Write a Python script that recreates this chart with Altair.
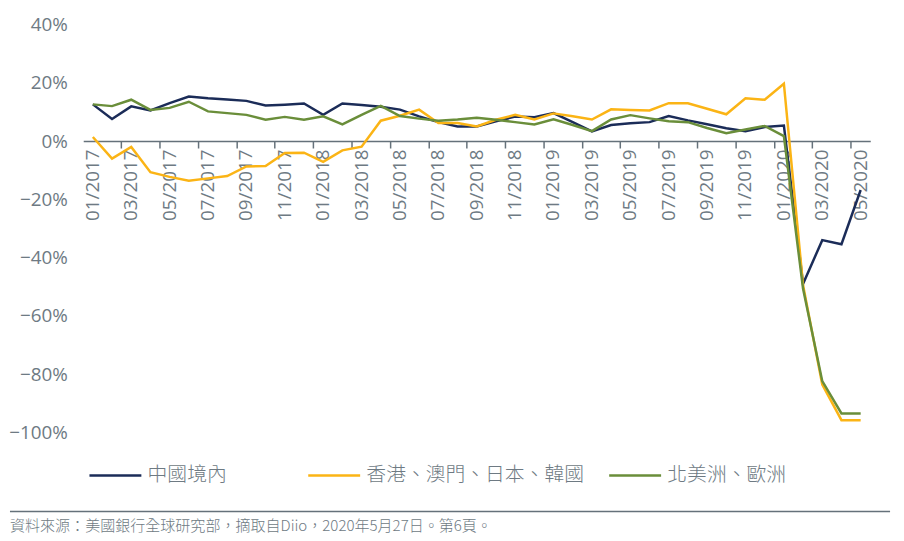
import altair as alt
import pandas as pd

months = [f"{m:02d}/{y}" for y in (2017, 2018, 2019, 2020) for m in range(1, 13)][:41]
series_names = ["中國境內", "香港、澳門、日本、韓國", "北美洲、歐洲"]
colors = ["#1b2c58", "#fbb415", "#6a8e3a"]

china = [12.6, 7.6, 11.9, 10.5, 13.0, 15.3, 14.7, 14.3, 13.8, 12.2,
         12.5, 12.9, 9.0, 12.9, 12.4, 11.8, 10.8, 8.5, 6.5, 5.0,
         5.0, 6.8, 8.4, 8.2, 9.6, 6.5, 3.3, 5.5, 6.1, 6.5,
         8.6, 7.1, 5.8, 4.4, 3.4, 4.8, 5.3, -49.0, -34.0, -35.4, -16.8]
asia = [1.4, -6.0, -2.0, -10.7, -12.3, -13.6, -12.8, -12.0, -8.7, -8.6,
        -4.1, -4.0, -7.1, -3.2, -1.9, 7.0, 8.7, 10.8, 6.2, 6.2,
        5.0, 7.3, 9.0, 7.4, 9.5, 8.5, 7.4, 10.9, 10.7, 10.5,
        13.0, 13.0, 11.1, 9.2, 14.7, 14.2, 19.7, -49.5, -83.6, -95.8, -95.8]
west = [12.6, 12.0, 14.2, 10.7, 11.4, 13.5, 10.2, 9.6, 9.0, 7.3,
        8.3, 7.3, 8.5, 5.7, 9.0, 12.1, 8.6, 7.7, 7.0, 7.4,
        8.0, 7.3, 6.5, 5.7, 7.5, 5.5, 3.4, 7.4, 8.9, 7.8,
        6.8, 6.5, 4.5, 2.7, 4.0, 5.2, 1.7, -50.7, -82.4, -93.5, -93.5]

y_ticks = [-1.0, -0.8, -0.6, -0.4, -0.2, 0.0, 0.2, 0.4]
label_months = months[0::2]
tick_months = months[1::2]
source = "資料來源：美國銀行全球研究部，摘取自Diio，2020年5月27日。第6頁。"

rows = []
for name, vals in zip(series_names, [china, asia, west]):
    for m, v in zip(months, vals):
        rows.append({"month": m, "series": name, "value": v / 100.0})
df = pd.DataFrame(rows)

W, H = 795, 412
zero_y = H * 0.4 / 1.4
GRAY = "#65717a"
LGRAY = "#6e7a83"
FONT = "Open Sans"
CJK = "Noto Sans CJK TC"

xscale = alt.Scale(type="band", domain=months, paddingInner=0, paddingOuter=0)
yenc = alt.Y(
    "value:Q",
    scale=alt.Scale(domain=[-1.0, 0.4], nice=False),
    axis=alt.Axis(values=y_ticks, format=".0%", title=None, domain=False,
                  ticks=False, grid=False, labelFont=FONT, labelFontSize=19,
                  labelColor=LGRAY, labelPadding=16, minExtent=74, maxExtent=74),
)

main_axis = alt.Axis(values=label_months, title=None, labelAngle=-90,
                     ticks=False, domain=True, domainColor=GRAY,
                     domainWidth=1.5, grid=False, labelFont=FONT,
                     labelFontSize=19, labelColor=LGRAY, labelPadding=8,
                     offset=-(H - zero_y))

legend_x = [5, 226, 530]
layers = []
for i, (name, col) in enumerate(zip(series_names, colors)):
    layers.append(
        alt.Chart(df[df["series"] == name]).mark_line(strokeWidth=2.5).encode(
            x=alt.X("month:N", sort=months, scale=xscale, bandPosition=0.5,
                    axis=main_axis if i == 0 else None),
            y=yenc,
            color=alt.Color("series:N",
                            scale=alt.Scale(domain=[name], range=[col]),
                            legend=alt.Legend(title=None, orient="none",
                                              legendX=legend_x[i], legendY=428,
                                              symbolType="stroke", symbolSize=2750,
                                              symbolStrokeWidth=2.5,
                                              labelFont=CJK, labelFontSize=20,
                                              labelFontWeight=300, labelColor=LGRAY,
                                              labelOffset=5, labelLimit=400)),
        )
    )

ticks_layer = alt.Chart(df).mark_point(opacity=0).encode(
    x=alt.X("month:N", sort=months, scale=xscale, bandPosition=0.5,
            axis=alt.Axis(values=tick_months, title=None, labels=False,
                          orient="top", ticks=True, tickSize=7, tickColor=GRAY,
                          tickWidth=1.5, bandPosition=1, domain=False, grid=False,
                          offset=-(zero_y + 7))),
    y=yenc,
)

foot = pd.DataFrame({"t": [source]})
rule = alt.Chart(foot).mark_rule(color=GRAY, strokeWidth=1.5).encode(
    x=alt.value(-74), x2=alt.value(815), y=alt.value(492)
)
text = alt.Chart(foot).mark_text(align="left", baseline="middle", font=CJK,
                                 fontSize=15.2, fontWeight=300, color=LGRAY).encode(
    x=alt.value(-74), y=alt.value(507), text="t:N"
)

chart = alt.layer(*layers, ticks_layer, rule, text).resolve_axis(
    x="independent"
).resolve_scale(color="independent").resolve_legend(color="independent").properties(
    width=W, height=H,
    padding={"left": 0, "top": 5, "right": 5, "bottom": 5},
).configure_view(stroke=None)

chart.save("out.html", embed_options={"renderer": "svg", "actions": False})
